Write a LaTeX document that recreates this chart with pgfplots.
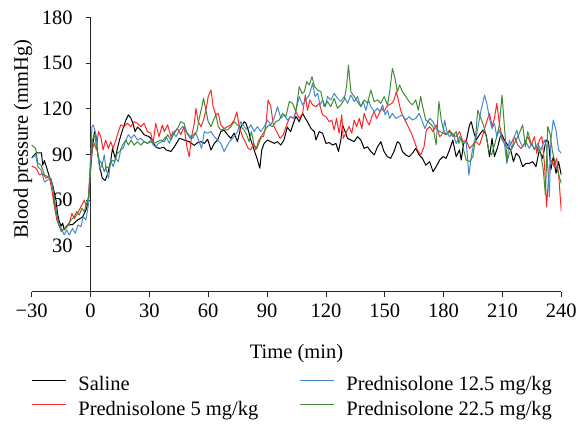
\documentclass[border=0pt]{standalone}
\usepackage{fontspec}
\setmainfont{Liberation Serif}
\usepackage{pgfplots}
\pgfplotsset{compat=1.18}

\definecolor{salineblack}{RGB}{0,0,0}
\definecolor{predred}{RGB}{255,38,38}
\definecolor{predblue}{RGB}{68,136,206}
\definecolor{predgreen}{RGB}{64,138,52}

\begin{document}
\fontsize{20.5bp}{24bp}\selectfont
\begin{tikzpicture}
\begin{axis}[
  scale only axis,
  width=529.6bp, height=274.4bp,
  xmin=-30, xmax=240, ymin=0, ymax=180,
  axis x line=bottom, axis y line=middle,
  axis line style={-, black!85, line width=0.8bp},
  hide obscured x ticks=false,
  xtick={-30,0,...,240},
  xticklabels={−30,0,30,60,90,120,150,180,210,240},
  ytick={30,60,...,180},
  yticklabels={30,60,90,120,150,180},
  yticklabel style={xshift=-6bp},
  tick align=outside,
  major tick length=5bp,
  tick style={black!85, line width=0.8bp},
  xlabel={Time (min)},
  ylabel={Blood pressure (mmHg)},
  every axis x label/.style={at={(axis description cs:0.5,-0.2434)}, anchor=base},
  every axis y label/.style={at={(axis description cs:-0.007,0.556)}, rotate=90, anchor=base},
  legend columns=2,
  transpose legend,
  legend cell align=left,
  legend style={draw=none, fill=none, inner sep=0pt,
    at={(axis description cs:0,-0.3061)}, anchor=north west,
    nodes={inner xsep=6.5bp, inner ysep=0bp, text height=15bp, text depth=9.3bp},
    /tikz/every odd column/.append style={column sep=5bp}},
  legend image code/.code={\draw[#1] (0bp,7.5bp) -- (34bp,7.5bp);},
  every axis plot/.append style={line width=1bp, line join=round},
]

% Saline
\addplot[salineblack] coordinates {
(-30,88) (-27.7,91) (-25,91) (-24.4,83) (-23.5,86) (-21,75.5) (-19.3,70) (-17.6,60)
(-16.8,51) (-15.9,46) (-15,43) (-14.2,45) (-13.4,40.5) (-11.7,43.8) (-9.2,44) (-6.6,47)
(-4.1,49) (-2.3,53.6) (-1,60) (0,80) (1,95) (2,105) (2.7,103) (3.6,90.8) (4.7,82) (6,74.4)
(7.5,73) (8.8,77.6) (10.3,86) (11.2,94) (12.6,87.5) (13.9,95) (15,100.6) (16.3,106)
(18,112.6) (19.3,116) (20.5,114) (21.7,110) (22.7,105) (23.9,108) (25.6,106) (27.3,103)
(29.8,101.7) (31.5,99.5) (33.2,95) (34.9,94) (37.4,94.7) (38.5,93) (41,92) (42.7,95)
(45.3,100.6) (47.8,99.5) (50.3,98.4) (52.9,96) (54.6,97.8) (56.3,98.4) (58,97.3) (59.7,100)
(61.4,93) (63.1,97.3) (64.8,99.5) (66.4,105) (68.1,106) (69.8,103) (71.5,100.6) (73.2,104)
(74.9,98.4) (76.6,108) (78.3,111.5) (79.2,110.5) (80.4,106) (81.7,99.5) (83.4,93) (85.1,86.4)
(86.3,81) (87.3,93) (88.5,97.3) (90.2,99.5) (91.9,98.4) (93.6,97.3) (95.3,98.4) (97,96.2)
(98.6,99.5) (100.3,108) (102,105) (103.7,111.5) (104.7,115) (106.4,111.5) (108.1,117)
(109.5,113.7) (110.6,111.5) (112.4,107) (114.1,105) (114.9,99.5) (116.6,105) (118.3,104)
(120,97.3) (121.7,97.8) (123.4,96.2) (125.1,97.3) (126.4,92) (127.6,99.5) (128.5,109.4)
(129.8,105) (131,100.6) (132.7,99.5) (134.4,98.4) (136.1,101.7) (137.8,99.5) (139.5,94)
(141.2,95) (142.9,92) (144.6,89.7) (146.3,95) (148,98.4) (149.6,92) (151.3,88.6) (153,87.5)
(154.7,92) (156.4,98.4) (157.6,97.3) (159,92) (160.7,89.7) (162.4,88.6) (164.1,90.8)
(165.8,94) (167.5,89.7) (169.2,87.5) (170.9,83) (172.9,85.3) (174.6,78.7) (176.2,82)
(178,86.4) (179.7,88.6) (181.3,87.5) (183,93) (184.7,99.5) (186.4,88.6) (188.1,93) (189,86.4)
(190.2,97.3) (191.5,98.4) (193.2,109.4) (194.1,111.5) (195.3,105) (196.6,99.5) (198.3,103)
(200,106) (201.7,103) (203.4,88.6) (204.7,100.6) (205.9,88.6) (207.6,95) (209.3,104)
(211,99.5) (212.7,96.2) (214.4,92) (215.6,85.3) (217,90.8) (218.6,88.6) (220.3,82) (222,84.2)
(223.7,84.2) (225.4,85.3) (227.1,82) (228.8,93) (230.5,87.5) (232.2,99.5) (233.5,98.4)
(234.7,80) (235.9,88.6) (237.3,77.6) (238.6,85.3) (240,76.5)
};
\addlegendentry{\makebox[215bp][l]{Saline}}

% Prednisolone 5 mg/kg
\addplot[predred] coordinates {
(-30,82.5) (-27.8,81) (-26,76.6) (-24.4,77.6) (-22.7,74.4) (-21,75.5) (-19.6,65.6)
(-18.4,55.8) (-17.2,47) (-15.9,42.7) (-14.2,40.5) (-12.5,41.6) (-10.8,45) (-9.5,51.4)
(-8.3,48) (-6.6,51.4) (-4.9,55.8) (-3.2,60) (-2,55.8) (-1,62.3) (0,88.6) (1,94) (2,97.3)
(3,93) (4,105) (5.2,101.7) (6.4,93) (7.7,99.5) (9.1,94) (10.3,98.4) (11.5,94) (12.9,99.5)
(14.2,105) (15.4,109.4) (17.1,108.3) (18.8,110.5) (20.5,108.3) (22.2,111.5) (23.9,110.5)
(25.6,108.3) (27.3,110.5) (29,105) (30.7,104) (31.9,97.3) (33.2,110.5) (34.9,101.7)
(36.6,109.4) (37.6,105) (39.3,109.4) (41,101.7) (42.7,105) (44.3,107) (46,103) (47.7,108.3)
(49.1,95) (50.3,88.6) (51.5,101.7) (52.9,110.5) (53.7,120.3) (54.9,111.5) (56.3,108.3)
(57.6,112.6) (58.8,119) (60,128) (61.4,132.3) (62.5,121.4) (63.9,116) (65.1,117) (66.4,109.4)
(68.1,107) (69.8,108.3) (71.5,109.4) (73.2,112.6) (74.6,118) (75.8,108.3) (77.5,101.7)
(79.2,97.3) (80.4,94) (81.7,93) (83.1,97.3) (84.3,93) (85.5,98.4) (86.8,101.7) (88.2,101.7)
(89.4,109.4) (90.5,125.8) (91.9,121.4) (93.2,109.4) (94.9,105) (96.6,100.6) (98.3,103)
(100,109.4) (101.7,114.8) (103.4,113.7) (104.7,118) (106.4,113.7) (108.1,117) (109.5,129)
(110.6,119) (111.8,125.8) (113.2,122.5) (114.9,121.4) (116.6,123.6) (118.3,116) (120,114.8)
(121.7,111.5) (123,112.6) (124.2,106) (125.4,113.7) (126.7,104) (128.1,116) (128.8,100.6)
(130.1,104) (131.8,108.3) (133.2,104) (134.4,112.6) (135.6,108.3) (137,113.7) (138.3,107)
(139.5,117) (140.7,112.6) (142.1,109.4) (143.4,114.8) (144.6,118) (145.8,113.7) (147.2,117)
(148.5,120.3) (149.7,118) (150.9,121.4) (152.2,122.5) (153.6,123.6) (154.7,125.8)
(155.9,131.2) (156.9,125.8) (158.1,119) (159.8,113.7) (161.5,109.4) (163.2,105) (164.9,99.5)
(166.6,93) (168.3,89.7) (170,95) (171.2,106) (172.9,108.3) (174.6,105) (176.2,109.4)
(178,101.7) (179.7,104) (181.3,103) (183,106) (184.7,103) (186.4,101.7) (188.1,105)
(189.8,98.4) (191.5,99.5) (193.2,94) (194.9,96.2) (196.6,98.4) (198.3,96.2) (200,103)
(201.7,110.5) (203.4,117) (204.7,108.3) (205.9,113.7) (207.1,123.6) (208.4,110.5)
(209.8,100.6) (211,97.3) (212.7,94) (214.4,97.3) (216.1,101.7) (217.8,96.2) (219.5,94)
(221.2,97.3) (222.9,101.7) (224.6,96.2) (226.3,101.7) (227.5,90.8) (228.8,99.5) (230.1,101.7)
(231.4,84.2) (232.5,55.8) (233.9,82) (235.2,86.4) (236.4,82) (237.6,87.5) (238.6,77.6)
(240,52.5)
};
\addlegendentry{\makebox[215bp][l]{Prednisolone 5 mg/kg}}

% Prednisolone 12.5 mg/kg
\addplot[predblue] coordinates {
(-30,87.5) (-28,89.7) (-26.9,82) (-25.2,79.8) (-23.5,72) (-21.8,73.3) (-20.1,74.4)
(-18.9,64.5) (-17.6,53.6) (-16.2,43.8) (-15,41.6) (-13.4,37.2) (-12.2,40.5) (-10.8,37.2)
(-9.2,41.6) (-7.8,38.3) (-6.4,43.8) (-4.9,42.7) (-3.7,49.2) (-2.4,47) (-1.2,55.8) (0,79.8)
(0.7,108.3) (1.4,109.4) (2.4,105) (3.6,92) (4.7,79.8) (6.1,84.2) (7,89.7) (7.8,81) (9.2,74.4)
(10.3,86.4) (11.5,82) (12.9,87.5) (14.2,85.3) (15.4,93) (16.6,94) (18,99.5) (19.3,103)
(20.7,100.6) (22.2,103) (23.9,99.5) (25.6,100.6) (27.3,98.4) (29,97.3) (30.7,99.5)
(31.9,96.2) (33.2,95) (34.6,97.3) (36.3,98.4) (38.5,101.7) (40.2,97.3) (41.9,105) (43.6,101.7)
(45.3,106) (47,108.3) (48.7,105) (50.3,103) (52,100.6) (53.7,104) (55.4,98.4) (56.6,94)
(58,105) (59.7,104) (61.4,105) (63.1,101.7) (64.8,99.5) (66.4,97.3) (68.1,92) (69.8,96.2)
(71.5,99.5) (73.2,101.7) (74.9,105) (76.6,111.5) (78.3,108.3) (80,106) (81.7,109.4)
(83.4,105) (85.1,108.3) (86.8,105) (88.5,108.3) (90.2,112.6) (91.9,109.4) (93.6,113.7)
(95.3,121.4) (97,113.7) (98.6,116) (100.3,112.6) (102,114.8) (103.7,113.7) (104.7,119)
(106.4,128) (108.1,122.5) (109.8,125.8) (111.5,129) (113.2,136.7) (114.5,128) (115.8,130.1)
(117,122.5) (118.3,125.8) (119.7,121.4) (120.8,128) (122.5,125.8) (124.2,130.1) (125.9,126.9)
(127.6,124.7) (129.3,128) (131,123.6) (132.7,129) (134.4,124.7) (136.1,128) (137.8,121.4)
(139,124.7) (140.4,119) (141.7,125.8) (142.9,121.4) (144.6,118) (146.3,120.3) (147.5,118)
(148.9,122.5) (150.2,116) (151.4,119) (152.5,113.7) (153.9,117) (155.6,113.7) (157.3,114.8)
(159,116) (160.7,112.6) (162.4,114.8) (164.1,112.6) (165.8,113.7) (167.5,117) (169.2,111.5)
(170.5,107) (171.6,110.5) (172.9,113.7) (174.6,111.5) (176.2,107) (178,105) (179.7,104)
(180.5,112.6) (181.7,105) (183,101.7) (184.7,104) (186.4,97.3) (188.1,101.7) (189.8,97.3)
(191.5,98.4) (192.9,76.5) (194.1,88.6) (195.3,97.3) (196.6,101.7) (198,111.5) (199.1,119)
(200.9,129) (202,123.6) (203.4,113.7) (204.7,107) (205.9,110.5) (207.1,101.7) (208.4,106)
(209.8,99.5) (211,97.3) (212.2,84.2) (213.5,99.5) (214.9,94) (216.1,101.7) (217.3,106)
(218.6,99.5) (220.3,95) (222,98.4) (223.7,94) (225,97.3) (226.3,93) (228,97.3) (229.6,93)
(231.4,99.5) (232.5,95) (233.9,62.3) (234.7,99.5) (235.9,112.6) (237.3,106) (238.6,93)
(240,90.8)
};
\addlegendentry{Prednisolone 12.5 mg/kg}

% Prednisolone 22.5 mg/kg
\addplot[predgreen] coordinates {
(-30,96.2) (-28,94) (-26.9,84.2) (-25.2,83) (-23.5,76.6) (-21.8,75.5) (-20.1,73.3)
(-18.9,65.6) (-17.6,52.5) (-16.2,44.8) (-15,39.4) (-13.4,41.6) (-11.7,43.8) (-10,47)
(-8.3,49.2) (-7.1,52.5) (-5.8,50.3) (-4.4,54.7) (-3.2,52.5) (-2,58) (-1,62.3) (0,79.8)
(1,99.5) (2,103) (3.2,94) (4.4,86.4) (5.7,84.2) (7,78.7) (8.2,82) (9.5,81) (10.8,86.4)
(12.2,85.3) (13.6,90.8) (15,92) (16.3,96.2) (18,99.5) (19.3,96.2) (20.7,99.5) (22.2,96.2)
(23.9,98.4) (25.6,96.2) (27.3,98.4) (29,97.3) (30.7,98.4) (32.4,97.3) (34.1,98.4) (35.8,99.5)
(37.6,98.4) (39.3,103) (41,99.5) (42.7,104) (44.3,107) (46,111.5) (47.7,110.5) (49.1,104)
(50.8,100.6) (52.5,103) (54.2,105) (55.4,113.7) (56.6,120.3) (57.6,126.9) (58.8,119)
(60,111.5) (61.4,108.3) (62.7,112.6) (63.9,116) (65.1,108.3) (66.4,106) (68.1,107) (69.8,106)
(71.5,108.3) (73.2,111.5) (74.9,109.4) (76.6,108.3) (78.3,106) (79.6,103) (80.8,98.4)
(82,105) (83.4,96.2) (84.8,94) (86.1,98.4) (87.6,103) (89.4,107) (91,109.4) (92.8,108.3)
(94.5,111.5) (96.2,112.6) (97.9,117) (99.6,114.8) (101.3,124.7) (103,123.6) (104.7,118)
(106.4,134.5) (107.8,130.1) (109,131.2) (110.2,137.8) (111.5,135.6) (112.9,141) (114.2,134.5)
(115.8,132.3) (117.4,131.2) (119.1,121.4) (120.8,124.7) (122.5,121.4) (124.2,126.9)
(125.9,120.3) (127.6,122.5) (129.3,125.8) (130.5,134.5) (131.5,148.7) (132.7,131.2)
(134.4,128) (136.1,124.7) (137.8,121.4) (139.5,125.8) (141.2,123.6) (142.9,132.3)
(144.6,124.7) (146.3,125.8) (148,123.6) (149.7,128) (151.4,122.5) (152.5,131.2) (153.9,146.5)
(155.2,140) (156.4,131.2) (157.6,135.6) (159,131.2) (160.7,128) (162.4,124.7) (164.1,122.5)
(165.8,125.8) (167.1,119) (168.3,128) (169.5,120.3) (170.9,112.6) (172.2,111.5) (172.9,110.5)
(174.6,108.3) (176.2,96.2) (177.6,124.7) (178.8,112.6) (180,106) (181.3,103) (183,105)
(184.7,101.7) (186.4,105) (187.8,97.3) (189,101.7) (190.2,93) (191.5,86.4) (193.2,85.3)
(194.9,88.6) (196.2,100.6) (197.4,119) (198.6,114.8) (200,110.5) (201.4,104) (203,93)
(204.4,89.7) (205.9,96.2) (207.1,101.7) (208.4,109.4) (209.8,129) (211,108.3) (212.4,85.3)
(213.5,90.8) (215.2,95) (217,99.5) (218.6,104) (220.3,109.4) (221.7,95) (222.9,105)
(224.6,97.3) (226.3,94) (228,95) (229.6,89.7) (230.8,80) (231.9,63.4) (233.1,108.3)
(234.2,104) (235.5,92) (236.9,84.2) (238,80) (239.2,74.4) (240,71)
};
\addlegendentry{Prednisolone 22.5 mg/kg}

\end{axis}
\pgfresetboundingbox
\path[use as bounding box] (current axis.south west) ++(-31.7bp,-132.3bp) rectangle ++(578bp,424bp);
\end{tikzpicture}
\end{document}
